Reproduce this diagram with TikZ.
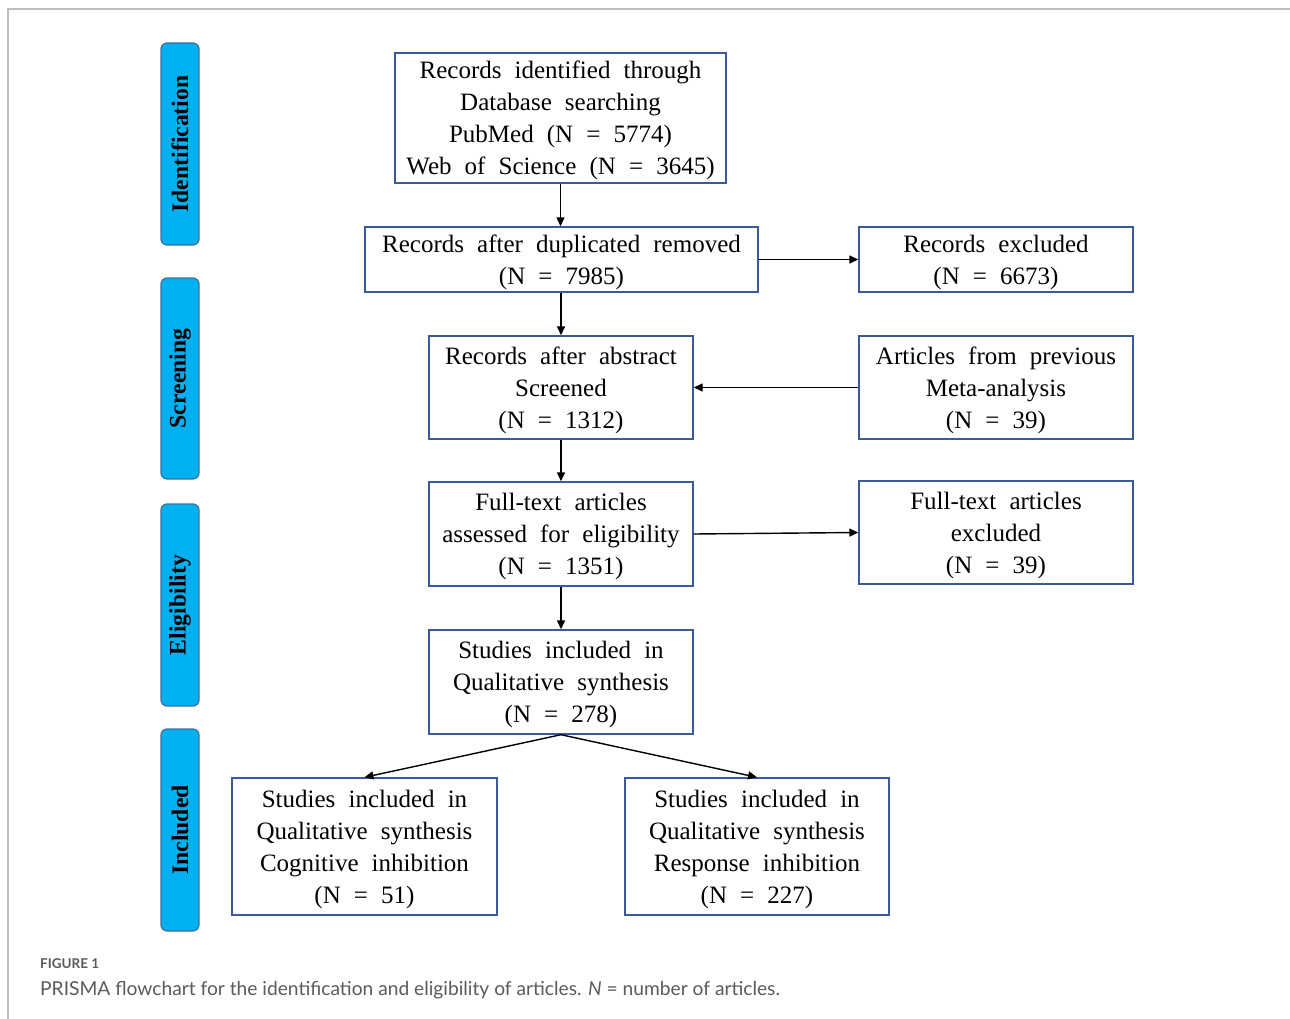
\documentclass[tikz,border=0pt]{standalone}
\usepackage{fontspec}
\setmainfont{Liberation Serif}[WordSpace=2.1]
\newfontfamily\barfont{Liberation Serif}
\newfontfamily\capfont{Lato}
\usetikzlibrary{arrows.meta}
\definecolor{boxblue}{HTML}{3A5A9C}
\definecolor{barfill}{HTML}{00B0F0}
\definecolor{barline}{HTML}{41719C}
\definecolor{capgrey}{HTML}{5A5A5A}
\definecolor{framegrey}{HTML}{BDBDBD}
\tikzset{
  flowbox/.style={draw=boxblue, line width=1.4pt, fill=white, align=center, inner sep=0pt,
    text depth=0pt, font=\fontsize{25}{32}\selectfont},
  phasebar/.style={draw=barline, line width=1.2pt, fill=barfill, rounded corners=6pt,
    minimum width=38pt, inner sep=0pt},
  phaselabel/.style={rotate=90, font=\barfont\bfseries\fontsize{23.7}{28}\selectfont},
  flowarrow/.style={line width=1.4pt, -{Triangle[length=9pt,width=8pt]}},
}
\begin{document}
\begin{tikzpicture}[x=1pt,y=-1pt]
\useasboundingbox (0,0) rectangle (1290,1019);
% frame
\draw[framegrey, line width=1.5pt] (8,1019) -- (8,9) -- (1290,9);
% phase bars
\node[phasebar, minimum height=202pt] (p1) at (180,144) {};
\node[phaselabel] (l1) at (p1.center) {Identification};
\node[phasebar, minimum height=201pt] (p2) at (180,378.5) {};
\node[phaselabel] (l2) at (p2.center) {Screening};
\node[phasebar, minimum height=202pt] (p3) at (180,605) {};
\node[phaselabel] (l3) at (p3.center) {Eligibility};
\node[phasebar, minimum height=202pt] (p4) at (180,830) {};
\node[phaselabel] (l4) at (p4.center) {Included};
% boxes
\node[flowbox, minimum width=331pt, minimum height=130pt] (b1) at (560.5,118)
  {Records identified through\\Database searching\\PubMed (N = 5774)\\Web of Science (N = 3645)};
\node[flowbox, minimum width=393pt, minimum height=65pt] (b2) at (561.5,259.5)
  {Records after duplicated removed\\(N = 7985)};
\node[flowbox, minimum width=274pt, minimum height=65pt] (b3) at (996,259.5)
  {Records excluded\\(N = 6673)};
\node[flowbox, minimum width=264pt, minimum height=103pt] (b4) at (561,387.5)
  {Records after abstract\\Screened\\(N = 1312)};
\node[flowbox, minimum width=274pt, minimum height=103pt] (b5) at (996,387.5)
  {Articles from previous\\Meta-analysis\\(N = 39)};
\node[flowbox, minimum width=264pt, minimum height=104pt] (b6) at (561,534)
  {Full-text articles\\assessed for eligibility\\(N = 1351)};
\node[flowbox, minimum width=274pt, minimum height=103pt] (b7) at (996,532.5)
  {Full-text articles\\excluded\\(N = 39)};
\node[flowbox, minimum width=264pt, minimum height=104pt] (b8) at (561,682)
  {Studies included in\\Qualitative synthesis\\(N = 278)};
\node[flowbox, minimum width=265pt, minimum height=137pt] (b9) at (364.5,846.5)
  {Studies included in\\Qualitative synthesis\\Cognitive inhibition\\(N = 51)};
\node[flowbox, minimum width=264pt, minimum height=137pt] (b10) at (757,846.5)
  {Studies included in\\Qualitative synthesis\\Response inhibition\\(N = 227)};
% arrows
\draw[flowarrow] (b1.south) -- (b2.north -| b1.south);
\draw[flowarrow] (b2.east) -- (b3.west);
\draw[flowarrow] (b2.south -| b4.north) -- (b4.north);
\draw[flowarrow] (b5.west) -- (b4.east);
\draw[flowarrow] (b4.south) -- (b6.north);
\draw[flowarrow] (b6.east) -- (b7.west);
\draw[flowarrow] (b6.south) -- (b8.north);
\draw[flowarrow] (b8.south) -- (b9.north);
\draw[flowarrow] (b8.south) -- (b10.north);
% caption
\node[anchor=base west, inner sep=0pt, text=capgrey, font=\capfont\bfseries\fontsize{13.5}{16}\selectfont] (cap1) at (40,968) {FIGURE 1};
\node[anchor=base west, inner sep=0pt, text=capgrey, font=\capfont\fontsize{19.2}{22}\selectfont] (cap2) at (40,995)
  {PRISMA flowchart for the identification and eligibility of articles. \textit{N} = number of articles.};
\end{tikzpicture}
\end{document}
